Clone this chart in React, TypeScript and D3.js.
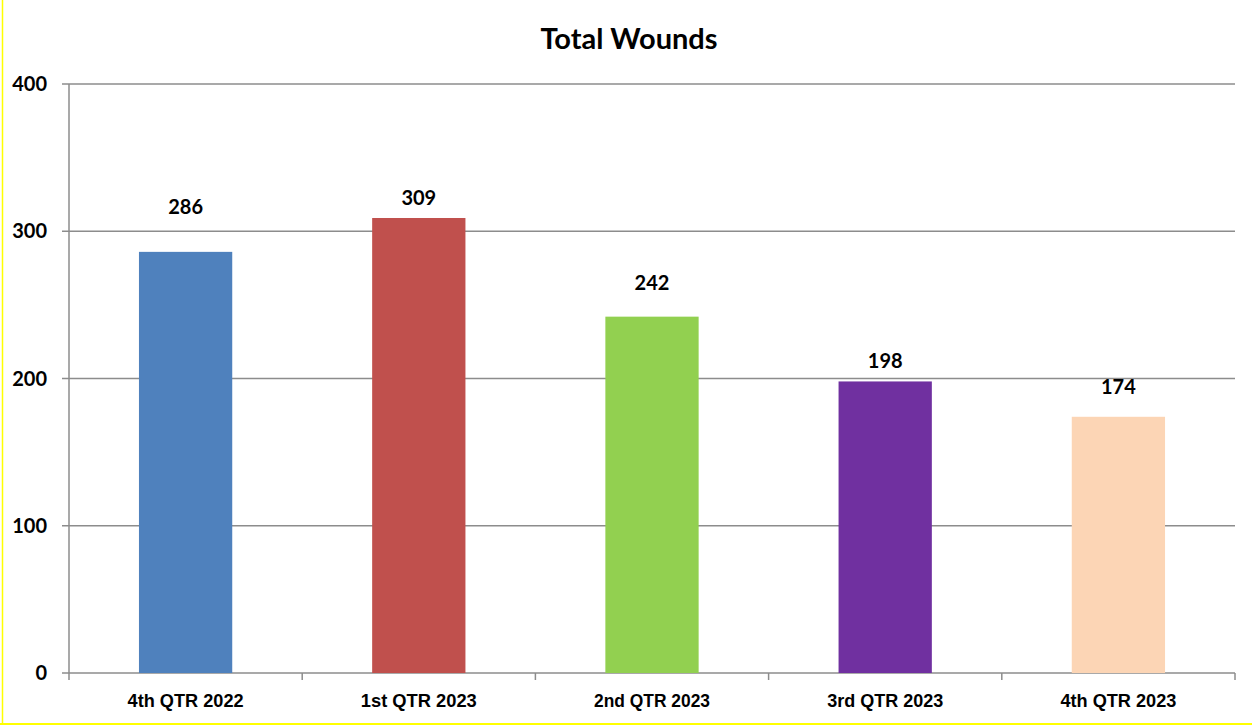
import React from "react";
import * as d3 from "d3";

const categories = ["4th QTR 2022", "1st QTR 2023", "2nd QTR 2023", "3rd QTR 2023", "4th QTR 2023"];
const values = [286, 309, 242, 198, 174];
const colors = ["#4F81BD", "#C0504D", "#92D050", "#7030A0", "#FCD5B5"];
const yTicks = [0, 100, 200, 300, 400];
const title = "Total Wounds";
// label lift above bar top (px), as placed in the reference
const labelLift = [45, 20, 34, 20, 30];

const W = 1252;
const H = 725;
const margin = { left: 69, right: 17, top: 84, bottom: 52 };

export default function App() {
  const x = d3
    .scaleBand<string>()
    .domain(categories)
    .range([margin.left, W - margin.right])
    .paddingInner(0.6)
    .paddingOuter(0.3);
  const y = d3.scaleLinear().domain([0, 400]).range([H - margin.bottom, margin.top]);
  const step = x.step();
  const x0 = margin.left;
  const x1 = W - margin.right;
  const labelFont = "Lato, 'Open Sans', sans-serif";
  const catFont = "'Liberation Sans', Arial, sans-serif";
  const grid = "#8c8c8c";

  return (
    <svg
      width={W}
      height={H}
      style={{ position: "absolute", left: 0, top: 0, background: "#fff" }}
    >
      <line x1={2.5} x2={2.5} y1={0} y2={725} stroke="#ffff00" strokeWidth={1.5} />
      <line x1={0} x2={W} y1={724} y2={724} stroke="#ffff00" strokeWidth={2} />
      <text
        x={629}
        y={49}
        textAnchor="middle"
        fontFamily={labelFont}
        fontWeight={700}
        fontSize={29}
        fill="#000"
      >
        {title}
      </text>
      {yTicks.map((t) => (
        <g key={t}>
          <line x1={x0 - 7} x2={x1} y1={y(t)} y2={y(t)} stroke={grid} strokeWidth={1.5} />
          <text
            x={47}
            y={y(t) + 7}
            textAnchor="end"
            fontFamily={labelFont}
            fontWeight={700}
            fontSize={20}
            fill="#000"
          >
            {t}
          </text>
        </g>
      ))}
      <line x1={x0} x2={x0} y1={y(400)} y2={y(0) + 7} stroke={grid} strokeWidth={1.5} />
      {categories.map((c, i) => (
        <line
          key={"tk" + c}
          x1={x0 + step * (i + 1)}
          x2={x0 + step * (i + 1)}
          y1={y(0)}
          y2={y(0) + 7}
          stroke={grid}
          strokeWidth={1.5}
        />
      ))}
      {categories.map((c, i) => (
        <g key={c}>
          <rect
            x={x(c)!}
            y={y(values[i])}
            width={x.bandwidth()}
            height={y(0) - y(values[i])}
            fill={colors[i]}
          />
          <text
            x={x(c)! + x.bandwidth() / 2}
            y={y(values[i]) - labelLift[i] + 7}
            textAnchor="middle"
            fontFamily={labelFont}
            fontWeight={700}
            fontSize={20}
            fill="#000"
          >
            {values[i]}
          </text>
          <text
            x={x(c)! + x.bandwidth() / 2}
            y={707}
            textAnchor="middle"
            fontFamily={catFont}
            fontWeight={700}
            fontSize={19}
            textLength={116}
            lengthAdjust="spacingAndGlyphs"
            fill="#000"
          >
            {c}
          </text>
        </g>
      ))}
    </svg>
  );
}
